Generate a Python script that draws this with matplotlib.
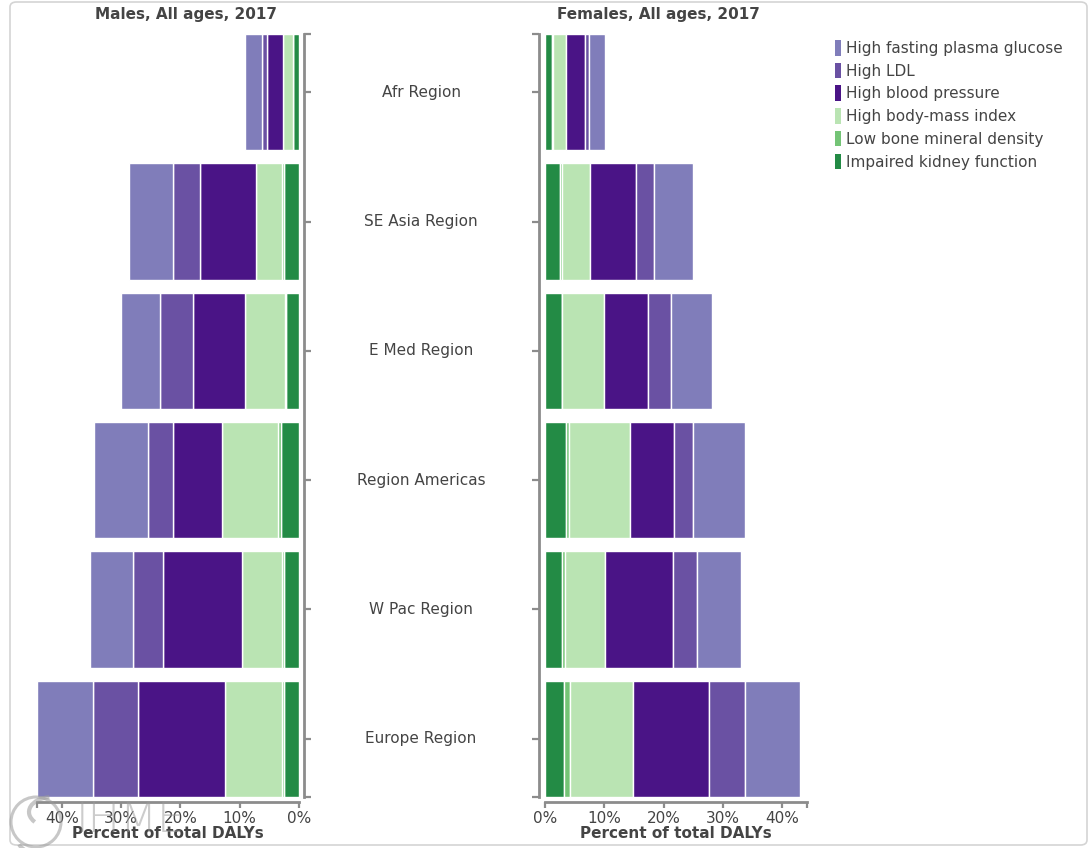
import matplotlib
matplotlib.use("Agg")
import matplotlib.pyplot as plt
from matplotlib.patches import Patch, FancyBboxPatch, Circle, Arc
from matplotlib.transforms import blended_transform_factory
import numpy as np

plt.rcParams["font.family"] = ["DejaVu Sans"]

regions = ["Afr Region", "SE Asia Region", "E Med Region",
           "Region Americas", "W Pac Region", "Europe Region"]

# stacking order from 0% outward
risks = ["Impaired kidney function", "Low bone mineral density",
         "High body-mass index", "High blood pressure", "High LDL",
         "High fasting plasma glucose"]
colors = ["#238b45", "#74c476", "#bae4b3", "#4a1486", "#6a51a3", "#807dba"]

# percent of total DALYs, one list per risk (same order as regions)
male_kidney = [1.0, 2.6, 2.2, 3.1, 2.5, 2.5]
male_bone = [0.05, 0.2, 0.1, 0.4, 0.4, 0.4]
male_bmi = [1.65, 4.5, 6.8, 9.5, 6.7, 9.6]
male_bp = [2.7, 9.4, 8.8, 8.3, 13.4, 14.6]
male_ldl = [0.8, 4.6, 5.5, 4.1, 5.0, 7.7]
male_fpg = [2.9, 7.4, 6.6, 9.1, 7.3, 9.4]

female_kidney = [1.2, 2.5, 2.8, 3.5, 2.8, 3.2]
female_bone = [0.1, 0.3, 0.1, 0.5, 0.6, 1.0]
female_bmi = [2.3, 4.8, 7.0, 10.4, 6.7, 10.6]
female_bp = [3.1, 7.8, 7.5, 7.4, 11.5, 12.9]
female_ldl = [0.8, 3.0, 3.8, 3.1, 4.1, 6.1]
female_fpg = [2.7, 6.6, 7.0, 8.8, 7.3, 9.2]

males = [male_kidney, male_bone, male_bmi, male_bp, male_ldl, male_fpg]
females = [female_kidney, female_bone, female_bmi, female_bp, female_ldl, female_fpg]

xticks = [0, 10, 20, 30, 40]
xticklabels = ["0%", "10%", "20%", "30%", "40%"]

W, H = 1091, 848
fig = plt.figure(figsize=(W / 100, H / 100), dpi=100)

def fx(px):
    return px / W

def fy(py):
    return 1 - py / H

xmax = max(np.sum(males, axis=0).max(), np.sum(females, axis=0).max())
ypos = np.arange(len(regions))
bar_h = 0.9
ylim = (len(regions) - 1 + bar_h / 2, -bar_h / 2)

TXT = "#444444"
SPINE = "#8c8c8c"
px2pt = 0.72
FS = 11

ax_m = fig.add_axes([fx(37), fy(797), fx(299) - fx(37), fy(34) - fy(797)])
ax_f = fig.add_axes([fx(545), fy(797), fx(807) - fx(545), fy(34) - fy(797)])

for ax, data, side in [(ax_m, males, "right"), (ax_f, females, "left")]:
    left = np.zeros(len(regions))
    for vals, col in zip(data, colors):
        vals = np.asarray(vals)
        ax.barh(ypos, vals, left=left, height=bar_h, color=col,
                edgecolor="white", linewidth=1.0)
        left += vals
    ax.set_ylim(*ylim)
    ax.set_xlim(0, xmax)
    ax.set_facecolor("none")
    for s in ["top", "left", "right", "bottom"]:
        ax.spines[s].set_visible(False)
    ax.spines[side].set_visible(True)
    ax.spines["bottom"].set_visible(True)
    ax.spines[side].set_position(("outward", (5 if side == "right" else 6) * px2pt))
    ax.spines["bottom"].set_position(("outward", 5 * px2pt))
    for s in [side, "bottom"]:
        ax.spines[s].set_color(SPINE)
        ax.spines[s].set_linewidth(2.0)

    ax.yaxis.set_ticks_position(side)
    ax.set_yticks(ypos)
    ax.set_yticklabels([])
    ax.set_yticks(list(ylim), minor=True)
    ax.tick_params(axis="y", which="both", length=7 * px2pt, width=1.6,
                   color=SPINE, direction="out")

    ax.set_xticks(xticks)
    ax.set_xticklabels(xticklabels)
    ax.set_xticks([xmax], minor=True)
    ax.tick_params(axis="x", which="both", length=6 * px2pt, width=1.6,
                   color=SPINE, direction="out", labelsize=FS,
                   labelcolor=TXT, pad=2)
    ax.set_xlabel("Percent of total DALYs", fontsize=FS, fontweight="bold",
                  color=TXT, labelpad=0)

ax_m.invert_xaxis()

# region names in the centre column
trans = blended_transform_factory(fig.transFigure, ax_m.transData)
for y, name in zip(ypos, regions):
    ax_m.text(fx(421), y, name, transform=trans, ha="center", va="center",
              fontsize=FS, color=TXT, clip_on=False)

fig.text(fx(186), fy(15), "Males, All ages, 2017", ha="center", va="center",
         fontsize=FS, fontweight="bold", color=TXT)
fig.text(fx(658), fy(15), "Females, All ages, 2017", ha="center", va="center",
         fontsize=FS, fontweight="bold", color=TXT)

# legend, listed from outermost segment inward
handles = [Patch(facecolor=c, edgecolor="none") for c in colors[::-1]]
fig.legend(handles, risks[::-1], loc="upper left",
           bbox_to_anchor=(fx(835), fy(40)), frameon=False, fontsize=FS,
           handlelength=0.4, handleheight=1.2, handletextpad=0.3,
           labelspacing=0.44, labelcolor=TXT, borderaxespad=0,
           borderpad=0)

# rounded frame around the chart
frame = FancyBboxPatch((fx(10), fy(845)), fx(1087) - fx(10), fy(2) - fy(845),
                       boxstyle="round,pad=0,rounding_size=0.006",
                       transform=fig.transFigure, facecolor="none",
                       edgecolor="#d4d4d4", linewidth=1.2, zorder=-5)
fig.patches.append(frame)

# faint IHME watermark
wm = fig.add_axes([0, 0, 1, 1], facecolor="none")
wm.set_xlim(0, W)
wm.set_ylim(H, 0)
wm.axis("off")
wm.add_patch(Circle((36, 822), 25, facecolor="none", edgecolor="#9a9a9a",
                    linewidth=2.2, alpha=0.55))
wm.add_patch(Arc((52, 812), 46, 30, theta1=150, theta2=260,
                 edgecolor="#9a9a9a", linewidth=3, alpha=0.55))
wm.add_patch(Arc((44, 840), 52, 30, theta1=80, theta2=170,
                 edgecolor="#9a9a9a", linewidth=3, alpha=0.55))
wm.text(76, 820, "IHME", fontsize=31, color="#9a9a9a", alpha=0.5,
        ha="left", va="center", fontweight="light")

fig.savefig("out.png", dpi=100)
